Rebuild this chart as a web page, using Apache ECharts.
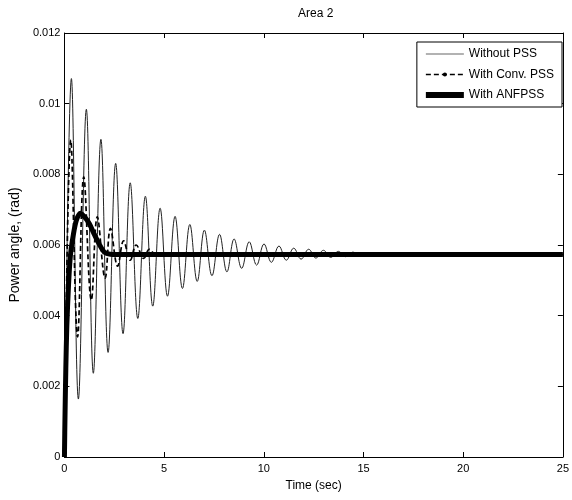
<!DOCTYPE html>
<html>
<head>
<meta charset="utf-8">
<script src="https://cdn.jsdelivr.net/npm/echarts@6/dist/echarts.min.js"></script>
<style>
html,body{margin:0;padding:0;background:#fff;}
#chart{width:572px;height:500px;}
</style>
</head>
<body>
<div id="chart"></div>
<script>
// ---- data ----
const chartTitle = 'Area 2';
const seriesNames = ['Without PSS', 'With Conv. PSS', 'With ANFPSS'];
const xTicks = [0, 5, 10, 15, 20, 25];
const yTicks = [0, 0.002, 0.004, 0.006, 0.008, 0.01, 0.012];

// Without PSS: extrema of the decaying oscillation (time s, angle rad)
const noPssTime = [0, 0.35, 0.70, 1.10, 1.45, 1.83, 2.19, 2.57, 2.94, 3.30, 3.68, 4.06, 4.43, 4.80, 5.17, 5.55, 5.92, 6.29, 6.66, 7.02, 7.40, 7.78, 8.15, 8.51, 8.89, 9.27, 9.64, 10.01, 10.38, 10.76, 11.13, 11.50, 11.87, 12.25, 12.61, 12.99, 13.36, 13.74, 14.10, 14.47, 14.84, 15.5, 25];
const noPssValue = [0, 0.01071, 0.00164, 0.00984, 0.00237, 0.00899, 0.00296, 0.00831, 0.00349, 0.00776, 0.00392, 0.00738, 0.00427, 0.00704, 0.00455, 0.00681, 0.00477, 0.00658, 0.00497, 0.00642, 0.00513, 0.0063, 0.00524, 0.00617, 0.00534, 0.00609, 0.00543, 0.00603, 0.00551, 0.00597, 0.00557, 0.00591, 0.0056, 0.00588, 0.00563, 0.00585, 0.00565, 0.00582, 0.00567, 0.0058, 0.00569, 0.00573, 0.00573];

// With conventional PSS
const convTime = [0, 0.32, 0.66, 0.97, 1.35, 1.65, 2.04, 2.31, 2.67, 2.97, 3.30, 3.60, 3.98, 4.26, 4.60, 25];
const convValue = [0, 0.00897, 0.0034, 0.00793, 0.00444, 0.0068, 0.00506, 0.00647, 0.0054, 0.00612, 0.00557, 0.006, 0.00562, 0.00588, 0.00573, 0.00573];

// With ANFPSS
const anfTime = [0, 0.03, 0.07, 0.12, 0.2, 0.3, 0.45, 0.6, 0.8, 1.0, 1.25, 1.5, 1.75, 2.0, 2.3, 3.0, 25];
const anfValue = [0, 0.0012, 0.0025, 0.0037, 0.0048, 0.0057, 0.0063, 0.0067, 0.0069, 0.0068, 0.0066, 0.0063, 0.00602, 0.0058, 0.00574, 0.00573, 0.00573];

const pairs = (t, v) => t.map((x, i) => [x, v[i]]);

const FONT = '"Liberation Sans", Arial, sans-serif';
const chart = echarts.init(document.getElementById('chart'), null, {renderer: 'canvas'});

const baseX = {
  type: 'value', min: xTicks[0], max: xTicks[xTicks.length - 1], interval: xTicks[1] - xTicks[0],
  axisLine: {show: true, onZero: false, lineStyle: {color: '#000', width: 1}},
  axisTick: {show: true, inside: true, length: 5, lineStyle: {color: '#000'}},
  splitLine: {show: false}
};
const baseY = {
  type: 'value', min: yTicks[0], max: yTicks[yTicks.length - 1], interval: yTicks[1] - yTicks[0],
  axisLine: {show: true, onZero: false, lineStyle: {color: '#000', width: 1}},
  axisTick: {show: true, inside: true, length: 5, lineStyle: {color: '#000'}},
  splitLine: {show: false}
};

const hidden = 'rgba(0,0,0,0)';

chart.setOption({
  animation: false,
  backgroundColor: '#fff',
  textStyle: {fontFamily: FONT},
  title: {
    text: chartTitle, left: 293, top: 3,
    textStyle: {fontSize: 12, fontWeight: 'normal', color: '#000', fontFamily: FONT}
  },
  grid: {left: 62, right: 6, top: 33, bottom: 43, containLabel: false},
  legend: {
    orient: 'vertical', right: 10, top: 42,
    itemWidth: 38, itemHeight: 5, itemGap: 8.5,
    padding: [6, 8, 6, 6],
    borderColor: '#000', borderWidth: 1, backgroundColor: '#fff',
    textStyle: {fontSize: 12, color: '#000', fontFamily: FONT},
    data: [
      {name: seriesNames[0], itemStyle: {color: hidden, borderWidth: 0}, lineStyle: {color: '#666', width: 1.2}},
      {name: seriesNames[1], itemStyle: {color: '#000', borderWidth: 0}, lineStyle: {color: '#000', width: 1.7, type: [5, 3]}},
      {name: seriesNames[2], itemStyle: {color: hidden, borderWidth: 0}, lineStyle: {color: '#000', width: 6}}
    ]
  },
  xAxis: [
    Object.assign({}, baseX, {
      position: 'bottom',
      axisLabel: {show: true, margin: 6, fontSize: 11, color: '#000', fontFamily: FONT},
      name: 'Time (sec)', nameLocation: 'middle', nameGap: 23,
      nameTextStyle: {fontSize: 12, color: '#000', fontFamily: FONT}
    }),
    Object.assign({}, baseX, {position: 'top', axisLabel: {show: false}})
  ],
  yAxis: [
    Object.assign({}, baseY, {
      position: 'left',
      axisLabel: {show: true, margin: 4, fontSize: 11, color: '#000', fontFamily: FONT},
      name: 'Power angle, (rad)', nameLocation: 'middle', nameGap: 40,
      nameTextStyle: {fontSize: 14, color: '#000', fontFamily: FONT}
    }),
    Object.assign({}, baseY, {position: 'right', axisLabel: {show: false}})
  ],
  series: [
    {
      name: seriesNames[0], type: 'line', xAxisIndex: 0, yAxisIndex: 0,
      data: pairs(noPssTime, noPssValue),
      smooth: 0.4, symbol: 'none', showSymbol: false,
      lineStyle: {color: '#222', width: 1},
      itemStyle: {color: '#555'}
    },
    {
      name: seriesNames[1], type: 'line', xAxisIndex: 0, yAxisIndex: 0,
      data: pairs(convTime, convValue),
      smooth: 0.4, symbol: 'circle', symbolSize: 5, showSymbol: false,
      lineStyle: {color: '#000', width: 1.7, type: [5, 3]},
      itemStyle: {color: '#000'}
    },
    {
      name: seriesNames[2], type: 'line', xAxisIndex: 0, yAxisIndex: 0,
      data: pairs(anfTime, anfValue),
      smooth: 0.3, symbol: 'none', showSymbol: false,
      lineStyle: {color: '#000', width: 5},
      itemStyle: {color: '#000'}
    }
  ]
});
</script>
</body>
</html>
